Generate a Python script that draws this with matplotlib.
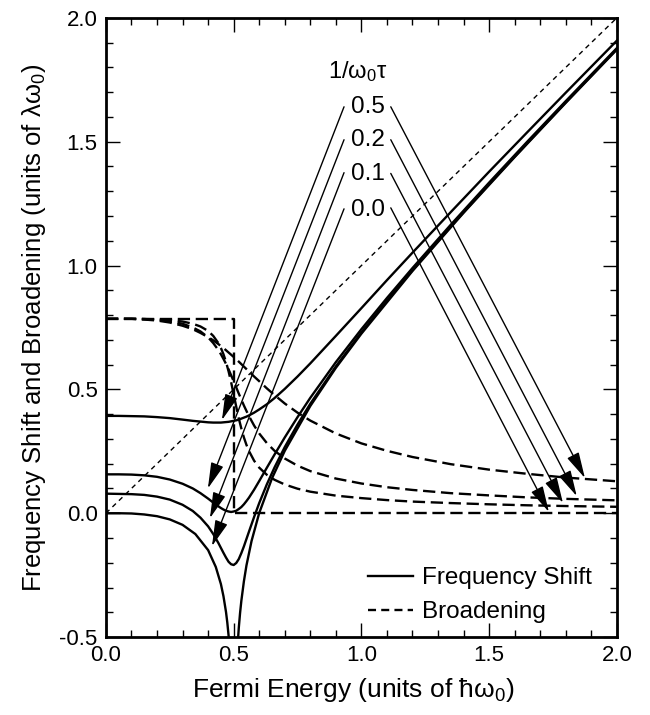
import matplotlib
matplotlib.use("Agg")
import matplotlib.pyplot as plt
from matplotlib.lines import Line2D
from matplotlib.ticker import MultipleLocator, FuncFormatter

plt.rcParams['font.family'] = ['Liberation Sans', 'DejaVu Sans']
plt.rcParams['mathtext.fontset'] = 'custom'
plt.rcParams['mathtext.rm'] = 'Liberation Sans'
plt.rcParams['mathtext.it'] = 'Liberation Sans'

# Fermi energy grid (units of hbar*omega0)
fermi = [0, 0.05, 0.1, 0.15, 0.2, 0.25, 0.3, 0.34, 0.37, 0.40, 0.42, 0.44, 0.45, 0.46, 0.47,
         0.48, 0.49, 0.50, 0.51, 0.52, 0.53, 0.54, 0.55, 0.56, 0.58, 0.60, 0.63, 0.66, 0.70,
         0.75, 0.8, 0.9, 1.0, 1.1, 1.2, 1.35, 1.5, 1.65, 1.8, 2.0]

shift_05 = [0.393, 0.393, 0.392, 0.391, 0.388, 0.384, 0.378, 0.373, 0.370, 0.367, 0.366, 0.366,
            0.366, 0.367, 0.368, 0.369, 0.371, 0.373, 0.375, 0.378, 0.382, 0.386, 0.390, 0.395,
            0.406, 0.419, 0.440, 0.465, 0.502, 0.552, 0.605, 0.716, 0.828, 0.941, 1.052, 1.216,
            1.379, 1.539, 1.698, 1.908]
broad_05 = [0.785, 0.785, 0.785, 0.782, 0.778, 0.770, 0.757, 0.743, 0.728, 0.711, 0.698, 0.683,
            0.675, 0.667, 0.658, 0.649, 0.640, 0.631, 0.622, 0.612, 0.602, 0.592, 0.582, 0.572,
            0.552, 0.533, 0.504, 0.477, 0.443, 0.406, 0.374, 0.322, 0.282, 0.252, 0.227, 0.198,
            0.176, 0.159, 0.144, 0.129]
shift_02 = [0.157, 0.157, 0.156, 0.153, 0.147, 0.136, 0.119, 0.100, 0.081, 0.059, 0.043, 0.028,
            0.021, 0.015, 0.010, 0.007, 0.005, 0.007, 0.010, 0.017, 0.025, 0.036, 0.049, 0.063,
            0.095, 0.130, 0.184, 0.237, 0.306, 0.388, 0.466, 0.610, 0.743, 0.869, 0.990, 1.165,
            1.335, 1.501, 1.664, 1.878]
broad_02 = [0.785, 0.785, 0.785, 0.784, 0.781, 0.775, 0.765, 0.750, 0.734, 0.710, 0.687, 0.659,
            0.642, 0.623, 0.603, 0.581, 0.557, 0.533, 0.508, 0.483, 0.459, 0.435, 0.413, 0.392,
            0.354, 0.322, 0.283, 0.252, 0.221, 0.192, 0.170, 0.140, 0.120, 0.105, 0.094, 0.081,
            0.072, 0.064, 0.058, 0.052]
shift_01 = [0.079, 0.078, 0.077, 0.074, 0.067, 0.055, 0.034, 0.009, -0.018, -0.053, -0.084, -0.120,
            -0.140, -0.160, -0.179, -0.196, -0.206, -0.209, -0.201, -0.185, -0.161, -0.134, -0.104,
            -0.074, -0.015, 0.041, 0.117, 0.185, 0.267, 0.358, 0.442, 0.593, 0.730, 0.858, 0.981,
            1.158, 1.329, 1.495, 1.659, 1.874]
broad_01 = [0.785, 0.785, 0.785, 0.784, 0.783, 0.780, 0.774, 0.765, 0.754, 0.736, 0.716, 0.687,
            0.667, 0.642, 0.611, 0.573, 0.529, 0.480, 0.430, 0.383, 0.342, 0.306, 0.276, 0.251,
            0.212, 0.184, 0.155, 0.135, 0.116, 0.099, 0.087, 0.071, 0.061, 0.053, 0.047, 0.041,
            0.036, 0.032, 0.029, 0.026]

# 1/omega0 tau = 0 : shift diverges at E_F = 0.5 (two branches), broadening is a step
fermi_00_left = [0, 0.05, 0.1, 0.15, 0.2, 0.25, 0.3, 0.35, 0.4, 0.43, 0.45, 0.46, 0.47, 0.475, 0.48, 0.485]
shift_00_left = [0.000, 0.000, -0.001, -0.005, -0.012, -0.025, -0.047, -0.084, -0.149, -0.217,
                 -0.286, -0.335, -0.399, -0.441, -0.493, -0.561]
fermi_00_right = [0.515, 0.52, 0.525, 0.53, 0.54, 0.55, 0.57, 0.6, 0.65, 0.7, 0.8, 0.9, 1.0, 1.2,
                  1.4, 1.6, 1.8, 2.0]
shift_00_right = [-0.539, -0.463, -0.403, -0.354, -0.275, -0.211, -0.112, 0.001, 0.141, 0.252,
                  0.433, 0.587, 0.725, 0.978, 1.213, 1.438, 1.657, 1.872]
fermi_00_step = [0.0, 0.5, 0.5, 2.0]
broad_00_step = [0.785, 0.785, 0.0, 0.0]

diag_x = [0.0, 2.0]
diag_y = [0.0, 2.0]

tau_labels = ['0.5', '0.2', '0.1', '0.0']
label_y = [1.640, 1.505, 1.368, 1.226]
arrow_start_left = [(0.932, 1.641), (0.932, 1.508), (0.932, 1.375), (0.932, 1.229)]
arrow_end_left = [(0.454, 0.376), (0.399, 0.100), (0.407, -0.020), (0.415, -0.133)]
arrow_start_right = [(1.115, 1.641), (1.115, 1.508), (1.115, 1.372), (1.115, 1.233)]
arrow_end_right = [(1.875, 0.142), (1.843, 0.069), (1.789, 0.041), (1.734, 0.005)]

fig = plt.figure(figsize=(6.5, 7.15), dpi=100)
ax = fig.add_axes([0.163, 0.109, 0.786, 0.866])

lw = 1.7
dash = (5.2, 2.4)
ax.plot(diag_x, diag_y, color='black', lw=1.0, ls=(0, (3.5, 3.0)))

for s in [shift_05, shift_02, shift_01]:
    ax.plot(fermi, s, color='black', lw=lw)
ax.plot(fermi_00_left, shift_00_left, color='black', lw=lw)
ax.plot(fermi_00_right, shift_00_right, color='black', lw=lw)

for b in [broad_05, broad_02, broad_01]:
    ax.plot(fermi, b, color='black', lw=lw, ls=(0, dash))
ax.plot(fermi_00_step, broad_00_step, color='black', lw=lw, ls=(0, dash))

ax.text(0.986, 1.782, r'1/$\mathregular{\omega_0\tau}$', ha='center', va='center', fontsize=17)
for lab, yy in zip(tau_labels, label_y):
    ax.text(1.025, yy, lab, ha='center', va='center', fontsize=17.5)

aprops = dict(arrowstyle='-|>,head_length=1.0,head_width=0.25', color='black', lw=1.0,
              mutation_scale=16, shrinkA=0, shrinkB=0)
for (s0, e0) in zip(arrow_start_left, arrow_end_left):
    ax.annotate('', xy=e0, xytext=s0, arrowprops=aprops)
for (s0, e0) in zip(arrow_start_right, arrow_end_right):
    ax.annotate('', xy=e0, xytext=s0, arrowprops=aprops)

ax.set_xlim(0, 2)
ax.set_ylim(-0.5, 2)
ax.xaxis.set_major_locator(MultipleLocator(0.5))
ax.xaxis.set_minor_locator(MultipleLocator(0.1))
ax.yaxis.set_major_locator(MultipleLocator(0.5))
ax.yaxis.set_minor_locator(MultipleLocator(0.1))
fmt = FuncFormatter(lambda v, p: '%.1f' % v)
ax.xaxis.set_major_formatter(fmt)
ax.yaxis.set_major_formatter(fmt)
ax.tick_params(which='both', direction='in', top=True, right=True, width=1.0, labelsize=16)
ax.tick_params(which='major', length=10, pad=6)
ax.tick_params(which='minor', length=5)
for sp in ax.spines.values():
    sp.set_linewidth(2.0)

ax.set_xlabel(r'Fermi Energy (units of ħ$\mathregular{\omega_0}$)', fontsize=19, labelpad=7)
ax.xaxis.label.set_x(0.485)
ax.set_ylabel(r'Frequency Shift and Broadening (units of $\mathregular{\lambda\omega_0}$)', fontsize=18.5, labelpad=8)

handles = [Line2D([], [], color='black', lw=lw),
           Line2D([], [], color='black', lw=lw, ls=(0, (3.4, 2.2)))]
ax.legend(handles, ['Frequency Shift', 'Broadening'], loc='lower left',
          bbox_to_anchor=(0.513, 0.022), frameon=False, fontsize=17.5, handlelength=1.85,
          handletextpad=0.37, labelspacing=0.5, borderpad=0, borderaxespad=0)

fig.savefig('out.png', dpi=100)
